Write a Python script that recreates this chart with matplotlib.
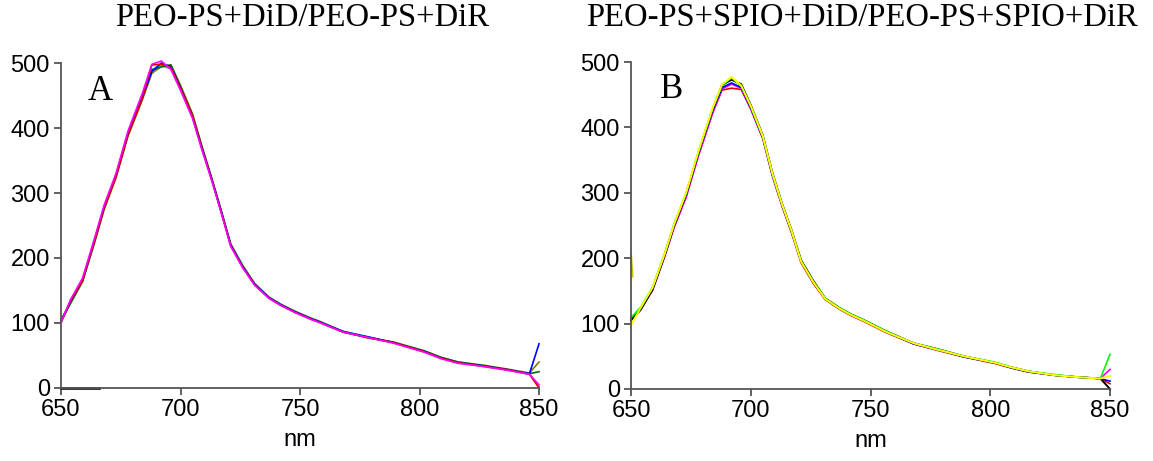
import matplotlib
matplotlib.use("Agg")
from matplotlib import pyplot as plt

# wavelength grid (nm) shared by all traces
wavelength = [650, 654, 659, 664, 668, 673, 678, 684, 688, 692, 696, 700, 705, 709, 713, 717, 721,
              726, 731, 737, 742, 748, 755, 758, 768, 778, 789, 802, 809, 816, 827, 837, 846, 850]

# panel A: PEO-PS+DiD/PEO-PS+DiR replicates
a_blue = [103, 133, 166, 226, 277, 326, 390, 446, 487, 500, 494, 462, 418, 369, 322, 272, 220,
          187, 160, 139, 128, 117, 106, 102, 87, 79, 70, 56, 46, 39, 34, 28, 22, 68]
a_magenta = [100, 136, 169, 230, 281, 330, 395, 453, 498, 503, 490, 458, 415, 366, 320, 270, 218,
             185, 158, 138, 127, 116, 105, 101, 86, 78, 69, 55, 45, 38, 33, 27, 21, 5]
a_olive = [105, 130, 163, 223, 274, 323, 387, 443, 484, 495, 497, 466, 422, 372, 324, 274, 222,
           189, 161, 140, 129, 118, 107, 103, 87, 77, 71, 57, 47, 40, 35, 29, 23, 40]
a_red = [102, 134, 165, 225, 276, 325, 389, 445, 497, 498, 493, 461, 419, 368, 321, 271, 219,
         186, 159, 138, 127, 116, 105, 101, 86, 78, 70, 56, 46, 39, 33, 28, 21, 0]
a_cyan = [104, 132, 164, 224, 275, 327, 391, 447, 490, 496, 491, 460, 417, 367, 322, 273, 221,
          188, 160, 139, 128, 117, 106, 102, 87, 79, 70, 57, 47, 40, 34, 28, 22, 2]
a_green = [101, 131, 165, 227, 278, 328, 392, 448, 489, 494, 497, 463, 420, 370, 323, 272, 220,
           187, 159, 139, 128, 117, 106, 102, 86, 78, 70, 57, 47, 40, 34, 28, 22, 25]
a_baseline_nm = [650, 666]
a_baseline = [0, 0]

# panel B: PEO-PS+SPIO+DiD/PEO-PS+SPIO+DiR replicates
b_black = [105, 121, 152, 204, 250, 298, 360, 427, 465, 473, 466, 434, 388, 331, 284, 243, 197,
           166, 139, 124, 114, 104, 91, 86, 70, 61, 50, 40, 33, 27, 21, 18, 16, 0]
b_red = [108, 124, 153, 203, 248, 294, 356, 422, 457, 460, 458, 428, 383, 326, 280, 239, 193,
         162, 137, 122, 112, 102, 89, 84, 69, 59, 49, 39, 32, 26, 21, 18, 16, 8]
b_magenta = [106, 122, 151, 202, 247, 293, 355, 421, 459, 466, 460, 429, 384, 327, 281, 240, 196,
             165, 138, 123, 113, 103, 90, 85, 69, 60, 50, 40, 33, 27, 21, 18, 16, 30]
b_blue = [107, 123, 154, 205, 251, 297, 359, 425, 461, 468, 461, 430, 385, 328, 282, 241, 195,
          164, 138, 123, 113, 103, 90, 85, 69, 60, 49, 40, 32, 26, 21, 18, 16, 12]
b_green = [109, 125, 156, 207, 253, 299, 361, 428, 464, 476, 463, 432, 386, 329, 283, 242, 196,
           165, 139, 124, 114, 104, 91, 86, 70, 61, 50, 41, 33, 27, 22, 18, 16, 53]
b_yellow = [98, 124, 155, 206, 252, 300, 362, 429, 466, 477, 464, 433, 387, 330, 283, 242, 195,
            164, 138, 123, 113, 103, 90, 85, 70, 60, 50, 40, 33, 27, 21, 18, 16, 20]
b_edge_nm = [650, 650.6]
b_edge = [205, 172]

x_ticks = [650, 700, 750, 800, 850]
y_ticks = [0, 100, 200, 300, 400, 500]

tick_font = "Liberation Sans"
title_font = "Liberation Serif"
axis_grey = "#555555"


def style_axis(ax):
    ax.set_xlim(650, 850)
    ax.set_ylim(0, 500)
    ax.set_xticks(x_ticks)
    ax.set_yticks(y_ticks)
    for side in ["top", "right"]:
        ax.spines[side].set_visible(False)
    for side in ["left", "bottom"]:
        ax.spines[side].set_color(axis_grey)
        ax.spines[side].set_linewidth(1.3)
    ax.tick_params(axis="both", direction="out", length=5, width=1.3, color=axis_grey,
                   labelsize=17, pad=3)
    for lbl in ax.get_xticklabels() + ax.get_yticklabels():
        lbl.set_fontfamily(tick_font)
    ax.set_xlabel("nm", fontsize=17, fontfamily=tick_font, labelpad=6)


fig = plt.figure(figsize=(11.53, 4.61), dpi=100)
ax_a = fig.add_axes([0.0529, 0.1584, 0.4146, 0.7049])
ax_b = fig.add_axes([0.5473, 0.1562, 0.4154, 0.7093])

lw = 1.2
ax_a.plot(a_baseline_nm, a_baseline, color="#222222", lw=2.0, clip_on=False)
ax_a.plot(wavelength, a_olive, color="#808000", lw=lw, clip_on=False)
ax_a.plot(wavelength, a_cyan, color="#00c8c8", lw=lw, clip_on=False)
ax_a.plot(wavelength, a_green, color="#007000", lw=lw, clip_on=False)
ax_a.plot(wavelength, a_blue, color="#0000ff", lw=lw, clip_on=False)
ax_a.plot(wavelength, a_red, color="#e00000", lw=lw, clip_on=False)
ax_a.plot(wavelength, a_magenta, color="#ff00ff", lw=lw, clip_on=False)

ax_b.plot(b_edge_nm, b_edge, color="#c8c800", lw=1.5, clip_on=False)
ax_b.plot(wavelength, b_red, color="#e00000", lw=lw, clip_on=False)
ax_b.plot(wavelength, b_magenta, color="#ff00ff", lw=lw, clip_on=False)
ax_b.plot(wavelength, b_blue, color="#0000ff", lw=lw, clip_on=False)
ax_b.plot(wavelength, b_black, color="#000000", lw=1.4, clip_on=False)
ax_b.plot(wavelength, b_green, color="#00ff00", lw=lw, clip_on=False)
ax_b.plot(wavelength, b_yellow, color="#ffff00", lw=1.4, clip_on=False)

style_axis(ax_a)
style_axis(ax_b)

ax_a.text(661, 443, "A", fontsize=25, fontfamily=title_font)
ax_b.text(662, 445, "B", fontsize=25, fontfamily=title_font)

fig.text(0.262, 0.961, "PEO-PS+DiD/PEO-PS+DiR", fontsize=23.5, fontfamily=title_font,
         ha="center", va="center")
fig.text(0.748, 0.961, "PEO-PS+SPIO+DiD/PEO-PS+SPIO+DiR", fontsize=23.5,
         fontfamily=title_font, ha="center", va="center")

fig.savefig("out.png", dpi=100)
